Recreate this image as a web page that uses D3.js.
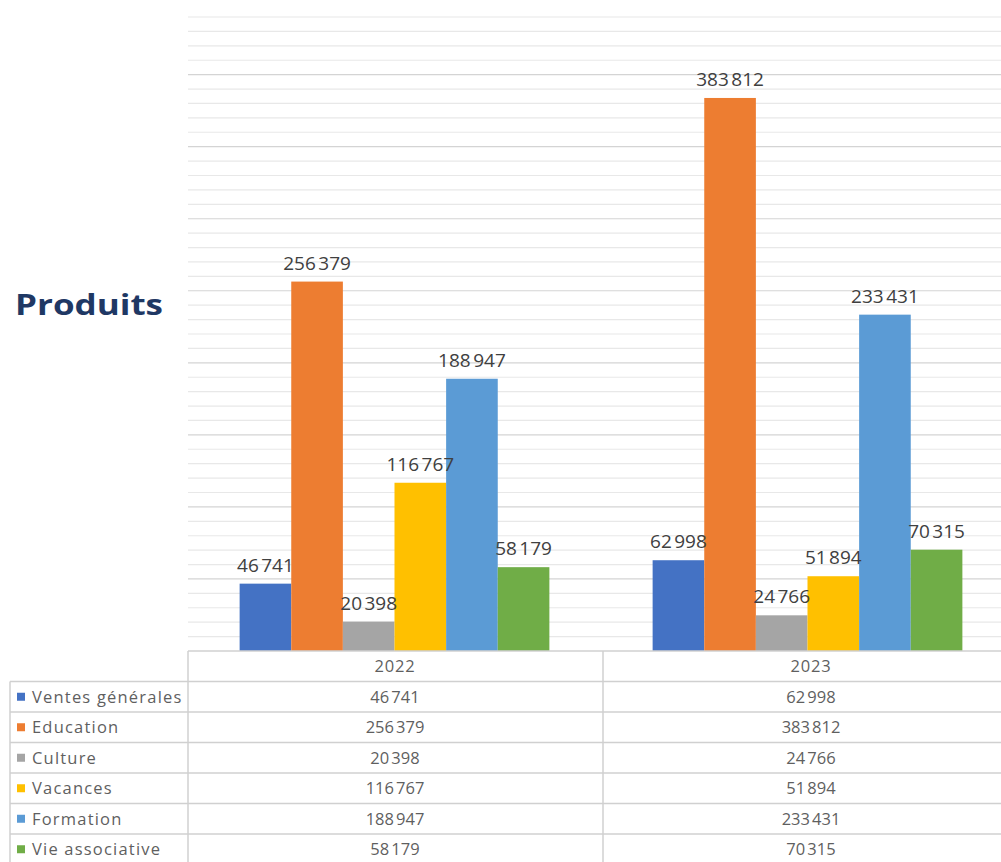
<!DOCTYPE html>
<html>
<head>
<meta charset="utf-8">
<script src="https://cdn.jsdelivr.net/npm/d3@7"></script>
<style>
  body { margin: 0; background: #fff; }
  svg { display: block; }
</style>
</head>
<body>
<svg id="chart" width="1001" height="862"></svg>
<script>
const years = ['2022', '2023']
const series = ['Ventes générales', 'Education', 'Culture', 'Vacances', 'Formation', 'Vie associative']
const colors = ['#4472C4', '#ED7D31', '#A5A5A5', '#FFC000', '#5B9BD5', '#70AD47']
const values2022 = [46741, 256379, 20398, 116767, 188947, 58179]
const values2023 = [62998, 383812, 24766, 51894, 233431, 70315]
const yMax = 440000

// french style thousands, narrow space
const fmt = v => d3.format(',')(v).replace(/,/g, '\u202F')
const font = 'Open Sans, Liberation Sans, sans-serif'

const svg = d3.select('#chart')

const x0 = d3.scaleBand().domain(years).range([188, 1014])
const x1 = d3.scaleBand().domain(series).range([0, x0.bandwidth()]).paddingOuter(1)
const y = d3.scaleLinear().domain([0, yMax]).range([651, 17])

// gridlines every 10 000, a bit darker every 50 000
svg.append('g')
  .selectAll('line')
  .data(d3.range(10000, yMax + 1, 10000))
  .enter()
  .append('line')
  .attr('x1', 188).attr('x2', 1001)
  .attr('y1', d => y(d)).attr('y2', d => y(d))
  .style('stroke', d => d % 50000 === 0 ? '#d4d4d4' : '#e8e8e8')
  .style('stroke-width', 1.2)

const data = years.map((yr, i) => ({
  year: yr,
  vals: series.map((s, j) => ({name: s, color: colors[j], value: (i === 0 ? values2022 : values2023)[j]}))
}))

const groups = svg.append('g')
  .selectAll('g')
  .data(data)
  .enter()
  .append('g')
  .attr('transform', d => `translate(${x0(d.year)},0)`)

groups.selectAll('rect')
  .data(d => d.vals)
  .enter()
  .append('rect')
  .attr('x', d => x1(d.name))
  .attr('width', x1.bandwidth())
  .attr('y', d => y(d.value))
  .attr('height', d => y(0) - y(d.value))
  .style('fill', d => d.color)

groups.selectAll('text')
  .data(d => d.vals)
  .enter()
  .append('text')
  .attr('text-anchor', 'middle')
  .attr('x', d => x1(d.name) + x1.bandwidth() / 2)
  .attr('y', d => y(d.value) - 12)
  .attr('font-size', '19px')
  .style('font-family', font)
  .style('fill', '#404040')
  .style('letter-spacing', '-0.2px')
  .text(d => fmt(d.value))

// title
svg.append('text')
  .attr('x', 15)
  .attr('y', 315)
  .attr('font-size', '28px')
  .attr('font-weight', 'bold')
  .attr('textLength', 148)
  .attr('lengthAdjust', 'spacingAndGlyphs')
  .style('font-family', font)
  .style('fill', '#1F3864')
  .text('Produits')

// data table
const rowTop = 651, headH = 30.5, rowH = 30.5
const table = svg.append('g')
const lineColor = '#d0d0d0'

table.append('line')
  .attr('x1', 188).attr('x2', 1001).attr('y1', rowTop).attr('y2', rowTop)
  .style('stroke', lineColor).style('stroke-width', 1.5)
table.selectAll('.hl')
  .data(d3.range(series.length + 1))
  .enter()
  .append('line')
  .attr('x1', 10).attr('x2', 1001)
  .attr('y1', i => rowTop + headH + i * rowH)
  .attr('y2', i => rowTop + headH + i * rowH)
  .style('stroke', lineColor).style('stroke-width', 1.5)

table.append('line')
  .attr('x1', 10).attr('x2', 10)
  .attr('y1', rowTop + headH).attr('y2', 862)
  .style('stroke', lineColor).style('stroke-width', 1.5)
table.selectAll('.vl')
  .data([188, 603])
  .enter()
  .append('line')
  .attr('x1', d => d).attr('x2', d => d)
  .attr('y1', rowTop).attr('y2', 862)
  .style('stroke', lineColor).style('stroke-width', 1.5)

const cellX = [395, 811]

table.selectAll('.yr')
  .data(years)
  .enter()
  .append('text')
  .attr('text-anchor', 'middle')
  .attr('x', (d, i) => cellX[i])
  .attr('y', rowTop + headH / 2 + 6)
  .attr('font-size', '16.5px')
  .style('font-family', font)
  .style('fill', '#5f5f5f')
  .style('letter-spacing', '0.8px')
  .text(d => d)

const rows = table.selectAll('.row')
  .data(series)
  .enter()
  .append('g')
  .attr('transform', (d, i) => `translate(0,${rowTop + headH + i * rowH})`)

rows.append('rect')
  .attr('x', 17).attr('y', rowH / 2 - 4)
  .attr('width', 8).attr('height', 8)
  .style('fill', (d, i) => colors[i])

rows.append('text')
  .attr('x', 32)
  .attr('y', rowH / 2 + 6)
  .attr('font-size', '16.5px')
  .style('font-family', font)
  .style('fill', '#5f5f5f')
  .style('letter-spacing', '1.2px')
  .text(d => d)

rows.append('text')
  .attr('text-anchor', 'middle')
  .attr('x', cellX[0])
  .attr('y', rowH / 2 + 6)
  .attr('font-size', '16.5px')
  .style('font-family', font)
  .style('fill', '#5f5f5f')
  .style('letter-spacing', '0.4px')
  .text((d, i) => fmt(values2022[i]))

rows.append('text')
  .attr('text-anchor', 'middle')
  .attr('x', cellX[1])
  .attr('y', rowH / 2 + 6)
  .attr('font-size', '16.5px')
  .style('font-family', font)
  .style('fill', '#5f5f5f')
  .style('letter-spacing', '0.4px')
  .text((d, i) => fmt(values2023[i]))
</script>
</body>
</html>
